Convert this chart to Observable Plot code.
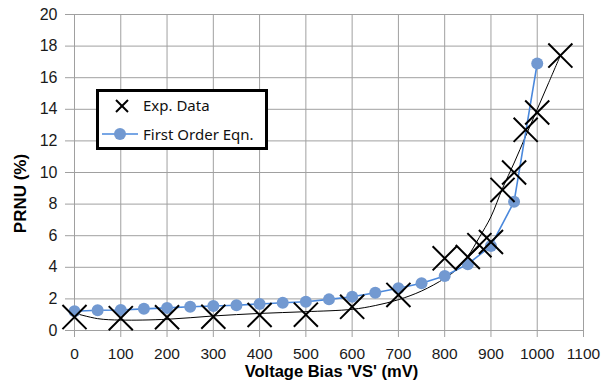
<!DOCTYPE html>
<html>
<head>
<meta charset="utf-8">
<script src="https://cdn.jsdelivr.net/npm/d3@7"></script>
<script src="https://cdn.jsdelivr.net/npm/@observablehq/plot@0.6"></script>
<style>
  html, body { margin: 0; padding: 0; background: white; }
  #wrap { position: relative; width: 601px; height: 386px; overflow: hidden; }
  #legend { position: absolute; left: 96px; top: 89px; width: 172px; height: 61px; box-sizing: border-box;
            border: 3px solid #000; background: #fff; }
  #legend svg { position: absolute; left: -3px; top: -3px; }
</style>
</head>
<body>
<div id="wrap">
  <div id="chart"></div>
  <div id="legend">
    <svg width="172" height="61" style="font-family:'Noto Sans',sans-serif;font-size:15px;">
      <g stroke="#000" stroke-width="2"><line x1="20" y1="11" x2="32" y2="23"/><line x1="32" y1="11" x2="20" y2="23"/></g>
      <text x="47" y="22" fill="#111">Exp. Data</text>
      <line x1="6" y1="45" x2="42" y2="45" stroke="#4a88dc" stroke-width="1.5"/>
      <circle cx="24" cy="45" r="6" fill="#7299d1"/>
      <text x="47" y="51" fill="#111">First Order Eqn.</text>
    </svg>
  </div>
</div>
<script>
// First Order Eqn. series
const eqnX = [0, 50, 100, 150, 200, 250, 300, 350, 400, 450, 500, 550, 600, 650, 700, 750, 800, 850, 900, 950, 1000];
const eqnY = [1.22, 1.28, 1.3, 1.37, 1.43, 1.5, 1.55, 1.6, 1.68, 1.76, 1.82, 1.97, 2.14, 2.39, 2.67, 2.99, 3.45, 4.2, 5.35, 8.15, 16.9];

// Experimental data
const expX = [0, 100, 200, 300, 400, 500, 600, 700, 800, 850, 875, 900, 925, 950, 975, 1000, 1050];
const expY = [0.85, 0.78, 0.84, 0.87, 0.98, 1.0, 1.5, 2.25, 4.57, 4.65, 5.4, 5.6, 8.9, 10.0, 12.7, 13.8, 17.4];

// Thin black trend curve
const trendX = [0, 50, 100, 200, 300, 400, 500, 600, 650, 700, 750, 800, 825, 850, 875, 900, 925, 950, 975, 1000, 1025, 1050];
const trendY = [1.1, 0.75, 0.66, 0.71, 0.92, 1.08, 1.19, 1.34, 1.58, 1.95, 2.5, 3.3, 3.85, 4.7, 5.9, 7.2, 9.0, 10.6, 12.3, 14.0, 15.7, 17.4];

// Tick values
const xTicks = [0, 100, 200, 300, 400, 500, 600, 700, 800, 900, 1000, 1100];
const yTicks = [0, 2, 4, 6, 8, 10, 12, 14, 16, 18, 20];

const xTitle = "Voltage Bias 'VS' (mV)";
const yTitle = "PRNU (%)";

const eqn = eqnX.map((x, i) => ({x, y: eqnY[i]}));
const exp = expX.map((x, i) => ({x, y: expY[i]}));
const trend = trendX.map((x, i) => ({x, y: trendY[i]}));

const gridColor = "#a0a0a0";
const font = "'Liberation Sans',Arial,sans-serif";

const chart = Plot.plot({
  width: 601,
  height: 386,
  marginLeft: 74,
  marginRight: 18,
  marginTop: 14,
  marginBottom: 56,
  x: {domain: [0, 1100]},
  y: {domain: [0, 20]},
  style: {fontFamily: font, fontSize: "16px", color: "#1a1a1a", background: "white", overflow: "visible"},
  marks: [
    Plot.gridX(xTicks, {stroke: gridColor, strokeOpacity: 1}),
    Plot.gridY(yTicks, {stroke: gridColor, strokeOpacity: 1}),
    Plot.axisX(xTicks, {tickSize: 7, tickPadding: 10, fontSize: 15.5, stroke: gridColor, fill: "#1a1a1a", label: null, tickFormat: d => String(d)}),
    Plot.axisY(yTicks, {tickSize: 9, tickPadding: 8, fontSize: 16, stroke: gridColor, fill: "#1a1a1a", label: null, tickFormat: d => String(d)}),
    Plot.line(trend, {x: "x", y: "y", stroke: "#000", strokeWidth: 1, curve: "catmull-rom"}),
    Plot.line(eqn, {x: "x", y: "y", stroke: "#4a88dc", strokeWidth: 1.6}),
    Plot.dot(eqn, {x: "x", y: "y", r: 6, fill: "#7299d1", ariaLabel: "eqn-dots"}),
    Plot.dot(exp, {x: "x", y: "y", r: 11, symbol: "times", stroke: "#000", strokeWidth: 2, ariaLabel: "exp-dots"}),
    Plot.text([xTitle], {frameAnchor: "bottom", textAnchor: "middle", lineAnchor: "middle", dx: 2.5, dy: 41.7, fontSize: 16.5, fontWeight: "bold", fill: "#000"}),
    Plot.text([yTitle], {frameAnchor: "left", textAnchor: "middle", lineAnchor: "middle", y: () => 8.67, dx: -54.4, rotate: -90, fontSize: 17, fontWeight: "bold", fill: "#000"})
  ]
});

// soft drop shadows like the original
const svg = d3.select(chart);
const defs = svg.insert("defs", ":first-child");
const f = defs.append("filter").attr("id", "shadow").attr("x", "-50%").attr("y", "-50%").attr("width", "200%").attr("height", "200%");
f.append("feDropShadow").attr("dx", 1.5).attr("dy", 1.5).attr("stdDeviation", 1.2).attr("flood-color", "#000").attr("flood-opacity", 0.35);
svg.selectAll('g[aria-label="eqn-dots"], g[aria-label="exp-dots"]').attr("filter", "url(#shadow)");

document.getElementById("chart").appendChild(chart);
</script>
</body>
</html>
